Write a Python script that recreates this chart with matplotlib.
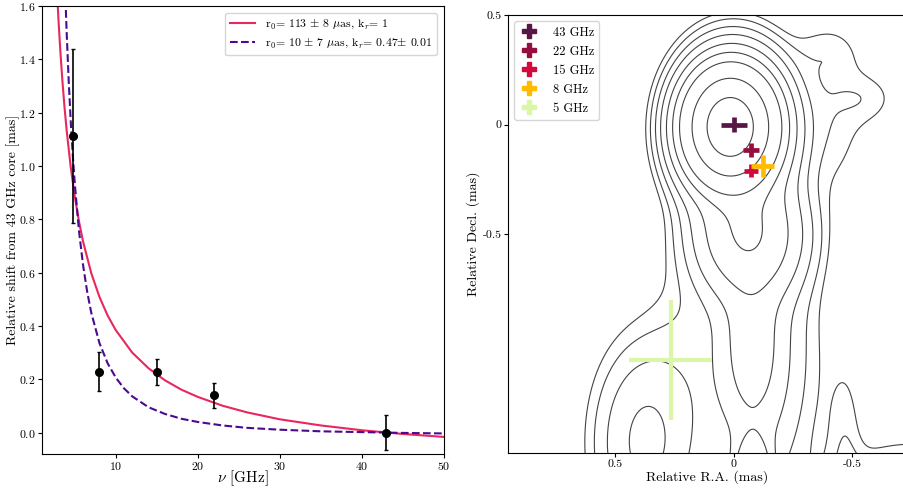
import numpy as np
import matplotlib
matplotlib.use("Agg")
import matplotlib.pyplot as plt
from matplotlib.lines import Line2D

plt.rcParams['font.family'] = ['cmr10', 'DejaVu Serif']
plt.rcParams['mathtext.fontset'] = 'cm'
plt.rcParams['axes.unicode_minus'] = False
plt.rcParams['axes.formatter.use_mathtext'] = True

# ---- left panel: core shift vs frequency ----
freq = [4.8, 8.0, 15.0, 22.0, 43.0]
shift = [1.112, 0.228, 0.227, 0.140, 0.0]
shift_err = [0.326, 0.073, 0.050, 0.047, 0.066]

# fit kr = 1
fit1_nu = [2.7, 3.0, 3.25, 3.5, 3.75, 4.0, 4.5, 5.0, 5.5, 6.0, 7.0, 8.0, 9.0, 10.0,
           12.0, 14.0, 16.0, 18.0, 20.0, 23.0, 26.0, 30.0, 35.0, 40.0, 45.0, 50.0]
fit1_val = [1.736, 1.550, 1.422, 1.312, 1.217, 1.134, 0.995, 0.884, 0.793, 0.717, 0.598,
            0.509, 0.439, 0.384, 0.300, 0.241, 0.196, 0.161, 0.134, 0.101, 0.076, 0.050,
            0.027, 0.009, -0.005, -0.016]

# fit kr = 0.47
fit2_nu = [3.6, 3.8, 4.0, 4.25, 4.5, 4.75, 5.0, 5.5, 6.0, 6.5, 7.0, 8.0, 9.0, 10.0, 11.0,
           12.0, 14.0, 16.0, 18.0, 20.0, 23.0, 26.0, 30.0, 35.0, 40.0, 45.0, 50.0]
fit2_val = [1.884, 1.677, 1.503, 1.320, 1.167, 1.040, 0.931, 0.758, 0.629, 0.529, 0.450,
            0.336, 0.260, 0.206, 0.166, 0.136, 0.095, 0.070, 0.052, 0.040, 0.027, 0.018,
            0.011, 0.005, 0.002, -0.001, -0.003]

fit1_label = r'r$_0$= 113 $\pm$ 8 $\mu$as, k$_r$= 1'
fit2_label = r'r$_0$= 10 $\pm$ 7 $\mu$as, k$_r$= 0.47$\pm$ 0.01'

# ---- right panel: core positions per band ----
bands = ['43 GHz', '22 GHz', '15 GHz', '8 GHz', '5 GHz']
band_colors = ['#581647', '#950f3e', '#d4083d', '#ffbb00', '#d9f7a6']
pos_ra = [0.0, -0.073, -0.074, -0.123, 0.265]
pos_dec = [0.0, -0.117, -0.210, -0.190, -1.075]
err_ra = [0.055, 0.032, 0.030, 0.048, 0.175]
err_dec = [0.034, 0.032, 0.030, 0.051, 0.273]

# gaussian components for the 43 GHz image: ra, dec, amp, sig_ra, sig_dec
# core, halo, west bridge, nw lobe, top west, upper jet, lower jet, tongue,
# left envelope, sw blob, bottom centre, bottom right, bottom right edge
comp_ra = [0.015, 0.0, -0.42, -0.57, -0.38, -0.06, -0.10, -0.075,
           0.20, 0.37, -0.08, -0.47, -0.75]
comp_dec = [-0.01, -0.02, 0.05, 0.12, 0.33, -0.50, -1.05, -1.00,
            -1.00, -1.45, -1.65, -1.45, -1.65]
comp_amp = [1.0, 0.06, 0.0008, 0.00065, 0.0005, 0.016, 0.0025, 0.003,
            0.0006, 0.004, 0.011, 0.0008, 0.002]
comp_sra = [0.08, 0.12, 0.10, 0.085, 0.10, 0.125, 0.15, 0.07,
            0.12, 0.13, 0.045, 0.05, 0.20]
comp_sdec = [0.11, 0.175, 0.25, 0.08, 0.08, 0.16, 0.42, 0.22,
             0.30, 0.27, 0.12, 0.25, 0.12]
levels = [0.00057, 0.001, 0.00185, 0.0035, 0.0074, 0.0164, 0.039, 0.156, 0.52]

fig = plt.figure(figsize=(9.04, 4.9), dpi=100)
ax1 = fig.add_axes([0.0465, 0.0735, 0.4445, 0.9145])
ax2 = fig.add_axes([0.562, 0.0755, 0.44, 0.8935])

ax1.plot(fit1_nu, fit1_val, color='#e8275f', lw=1.5, label=fit1_label)
ax1.plot(fit2_nu, fit2_val, color='#4b0a8f', lw=1.5, ls='--', label=fit2_label)
ax1.errorbar(freq, shift, yerr=shift_err, fmt='o', color='black', ms=5.5,
             elinewidth=1.2, capsize=1.5, capthick=1)
ax1.set_xlim(1, 50)
ax1.set_ylim(-0.08, 1.6)
ax1.set_xticks([10, 20, 30, 40, 50])
ax1.set_yticks(np.arange(0, 1.61, 0.2))
ax1.set_xlabel(r'$\nu$ [GHz]', fontsize=11)
ax1.set_ylabel('Relative shift from 43 GHz core [mas]', fontsize=10)
ax1.xaxis.set_label_coords(0.5, -0.032)
ax1.yaxis.set_label_coords(-0.055, 0.5)
ax1.tick_params(labelsize=8.5, length=3, pad=1.5)
ax1.legend(loc='upper right', fontsize=8.5, handlelength=2.2, borderaxespad=0.6)

# contour map
gra = np.linspace(1.0, -0.8, 360)
gdec = np.linspace(-1.7, 0.6, 460)
RA, DEC = np.meshgrid(gra, gdec)
img = np.zeros_like(RA)
for a, d, f, sa, sd in zip(comp_ra, comp_dec, comp_amp, comp_sra, comp_sdec):
    img += f * np.exp(-0.5 * (((RA - a) / sa) ** 2 + ((DEC - d) / sd) ** 2))
ax2.contour(RA, DEC, img, levels=levels, colors='#444444', linewidths=0.8)

for name, c, x, y, ex, ey in zip(bands, band_colors, pos_ra, pos_dec, err_ra, err_dec):
    lw = 3.0 if name == '5 GHz' else 3.4
    ax2.errorbar(x, y, xerr=ex, yerr=ey, fmt='none', ecolor=c, elinewidth=lw, capsize=0)

ax2.set_xlim(0.95, -0.725)
ax2.set_ylim(-1.5, 0.5)
ax2.set_xticks([0.5, 0, -0.5])
ax2.set_xticklabels(['0.5', '0', '-0.5'])
ax2.set_yticks([0.5, 0, -0.5])
ax2.set_yticklabels(['0.5', '0', '-0.5'])
ax2.tick_params(labelsize=8.5, length=3, pad=1.5)
ax2.set_xlabel('Relative R.A. (mas)', fontsize=10)
ax2.set_ylabel('Relative Decl. (mas)', fontsize=10)
ax2.xaxis.set_label_coords(0.5, -0.04)
ax2.yaxis.set_label_coords(-0.07, 0.5)

handles = [Line2D([], [], ls='none', marker='P', ms=10, color=c, mec=c) for c in band_colors]
ax2.legend(handles, bands, loc='upper left', fontsize=9, handlelength=1.5,
           handletextpad=1.2, borderaxespad=0.5, labelspacing=0.55)

fig.savefig('out.png', dpi=100)
